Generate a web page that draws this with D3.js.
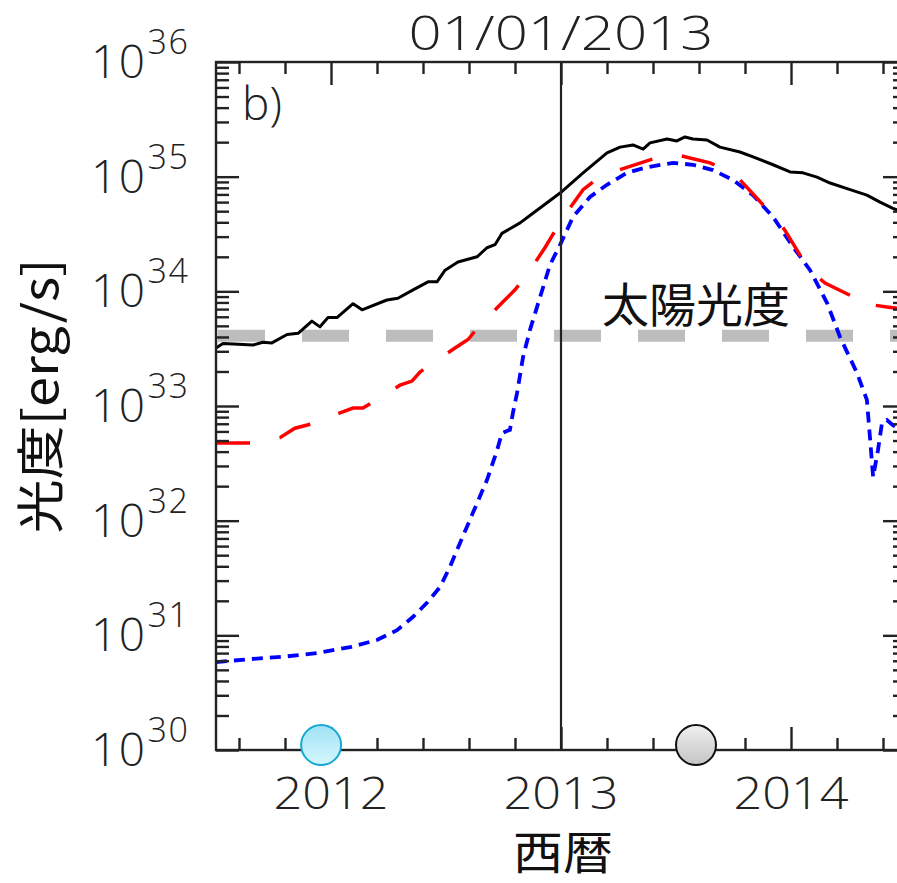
<!DOCTYPE html>
<html>
<head>
<meta charset="utf-8">
<script src="https://cdn.jsdelivr.net/npm/d3@7"></script>
<style>
  html,body{margin:0;padding:0;background:#fff;}
  svg{display:block;}
  .tk{font-family:'Open Sans','DejaVu Sans',sans-serif;font-weight:300;fill:#222;}
  .jp{font-family:'Noto Sans CJK JP',sans-serif;fill:#111;}
</style>
</head>
<body>
<svg id="chart" width="897" height="883"></svg>
<script>
// luminosity [erg/s] vs. time [yr]
const totalLum = [
  [2011.500,3.2e33],[2011.530,3.5e33],[2011.661,3.4e33],[2011.704,3.6e33],[2011.743,3.55e33],
  [2011.809,4.2e33],[2011.857,4.3e33],[2011.917,5.5e33],[2011.952,4.9e33],[2011.987,5.9e33],
  [2012.026,5.9e33],[2012.096,7.8e33],[2012.135,6.9e33],[2012.243,8.4e33],[2012.291,8.7e33],
  [2012.357,1.03e34],[2012.422,1.21e34],[2012.461,1.21e34],[2012.496,1.53e34],[2012.552,1.8e34],
  [2012.635,2.0e34],[2012.678,2.4e34],[2012.713,2.55e34],[2012.743,3.2e34],[2012.822,3.95e34],
  [2012.878,4.8e34],[2012.996,7.2e34],[2013.096,1.08e35],[2013.200,1.61e35],[2013.257,1.81e35],
  [2013.313,1.89e35],[2013.357,1.74e35],[2013.387,1.97e35],[2013.461,2.13e35],[2013.504,2.05e35],
  [2013.539,2.22e35],[2013.574,2.13e35],[2013.635,2.09e35],[2013.691,1.81e35],[2013.778,1.64e35],
  [2013.835,1.49e35],[2013.922,1.27e35],[2013.996,1.10e35],[2014.052,1.08e35],[2014.113,9.9e34],
  [2014.170,8.8e34],[2014.257,7.7e34],[2014.330,6.9e34],[2014.387,6.0e34],[2014.443,5.3e34],
  [2014.496,4.8e34]
];
const midLum = [
  [2011.500,4.75e32],[2011.648,4.75e32],[2011.778,5.3e32],[2011.843,6.4e32],[2011.917,7.0e32],
  [2012.039,8.7e32],[2012.096,9.6e32],[2012.139,9.6e32],[2012.183,1.08e33],[2012.300,1.52e33],
  [2012.352,1.65e33],[2012.387,1.98e33],[2012.422,2.23e33],[2012.539,3.2e33],[2012.596,3.8e33],
  [2012.648,5.1e33],[2012.748,8.1e33],[2012.800,1.03e34],[2012.852,1.39e34],[2012.930,2.4e34],
  [2013.009,4.4e34],[2013.096,7.7e34],[2013.139,9.0e34],[2013.213,1.08e35],[2013.357,1.34e35],
  [2013.430,1.49e35],[2013.504,1.55e35],[2013.648,1.32e35],[2013.691,1.21e35],[2013.778,9.4e34],
  [2013.878,5.7e34],[2013.922,4.8e34],[2013.974,3.4e34],[2014.052,1.88e34],[2014.096,1.45e34],
  [2014.148,1.18e34],[2014.278,8.8e33],[2014.330,7.3e33],[2014.357,7.6e33],[2014.417,7.3e33],
  [2014.496,7.0e33]
];
const lowLum = [
  [2011.500,5.85e30],[2011.648,6.2e30],[2011.791,6.5e30],[2011.939,7.0e30],[2012.083,7.9e30],
  [2012.200,9.1e30],[2012.287,1.11e31],[2012.357,1.45e31],[2012.417,1.92e31],[2012.474,2.64e31],
  [2012.517,3.95e31],[2012.561,6.4e31],[2012.617,1.17e32],[2012.678,2.26e32],[2012.722,4.1e32],
  [2012.743,5.8e32],[2012.778,6.2e32],[2012.791,8.7e32],[2012.809,1.3e33],[2012.835,2.67e33],
  [2012.865,4.6e33],[2012.909,8.9e33],[2012.952,1.7e34],[2012.996,2.54e34],[2013.052,4.45e34],
  [2013.126,6.65e34],[2013.200,8.5e34],[2013.287,1.08e35],[2013.374,1.21e35],[2013.487,1.32e35],
  [2013.574,1.27e35],[2013.661,1.14e35],[2013.748,9.35e34],[2013.835,6.9e34],[2013.922,4.45e34],
  [2014.009,2.44e34],[2014.083,1.53e34],[2014.157,7.9e33],[2014.213,4.0e33],[2014.287,1.94e33],
  [2014.330,1.13e33],[2014.343,5.4e32],[2014.357,2.4e32],[2014.378,4.1e32],[2014.396,7.2e32],
  [2014.417,7.55e32],[2014.443,6.8e32],[2014.496,5.9e32]
];
const sunLum = 4.1e33;
const refDate = 2013.0;
const markerYears = [2011.957, 2013.587];
const xTicks = [2012, 2013, 2014];
const yDecades = [30, 31, 32, 33, 34, 35, 36];

const svg = d3.select('#chart');
const L = 216, R = 906, T = 62, B = 750;
const x = d3.scaleLinear().domain([2011.5, 2014.5]).range([L, R]);
const y = d3.scaleLog().domain([1e30, 1e36]).range([B, T]);

const defs = svg.append('defs');
defs.append('clipPath').attr('id','plot').append('rect')
  .attr('x',L).attr('y',T).attr('width',R-L).attr('height',B-T);
const g1 = defs.append('linearGradient').attr('id','gcyan').attr('x1',0).attr('x2',0).attr('y1',0).attr('y2',1);
g1.append('stop').attr('offset','0%').attr('stop-color','#9fe3f5');
g1.append('stop').attr('offset','100%').attr('stop-color','#d6f6fd');
const g2 = defs.append('linearGradient').attr('id','ggray').attr('x1',0).attr('x2',0).attr('y1',0).attr('y2',1);
g2.append('stop').attr('offset','0%').attr('stop-color','#f0f0f0');
g2.append('stop').attr('offset','100%').attr('stop-color','#c4c4c4');

// solar luminosity reference
svg.append('line').attr('x1',L+2).attr('x2',R).attr('y1',y(sunLum)).attr('y2',y(sunLum))
  .attr('stroke','#bdbdbd').attr('stroke-width',12).attr('stroke-dasharray','47,37');
svg.append('text').attr('class','jp').attr('x',602).attr('y',y(sunLum)-14)
  .attr('font-size',47).text('太陽光度');

// curves
const line = d3.line().x(d=>x(d[0])).y(d=>y(d[1]));
const pg = svg.append('g').attr('clip-path','url(#plot)');
pg.append('path').datum(lowLum).attr('d',line).attr('fill','none')
  .attr('stroke','#0000ff').attr('stroke-width',3.8).attr('stroke-dasharray','11,7');
pg.append('path').datum(midLum).attr('d',line).attr('fill','none')
  .attr('stroke','#ff0000').attr('stroke-width',3.5).attr('stroke-dasharray','34,30');
pg.append('path').datum(totalLum).attr('d',line).attr('fill','none')
  .attr('stroke','#000').attr('stroke-width',3).attr('stroke-linejoin','round');

// reference date
svg.append('line').attr('x1',x(refDate)).attr('x2',x(refDate)).attr('y1',T).attr('y2',B)
  .attr('stroke','#222').attr('stroke-width',2.2);

// axes: major/minor ticks pointing inward
const yMinor = [];
yDecades.slice(0,-1).forEach(e=>{ for(let k=2;k<=9;k++) yMinor.push(k*Math.pow(10,e)); });
const yMajor = yDecades.map(e=>Math.pow(10,e));
const xMinor = d3.range(2011.6, 2014.5, 0.2).map(v=>+v.toFixed(1)).filter(v=>!xTicks.includes(v));

function tickStyle(sel){
  sel.select('.domain').remove();
  sel.selectAll('line').attr('stroke','#222').attr('stroke-width',2.4);
  sel.selectAll('text').remove();
}
svg.append('g').attr('transform',`translate(${L},0)`).call(d3.axisLeft(y).tickValues(yMajor).tickSize(-23)).call(tickStyle);
svg.append('g').attr('transform',`translate(${L},0)`).call(d3.axisLeft(y).tickValues(yMinor).tickSize(-13)).call(tickStyle);
svg.append('g').attr('transform',`translate(${R},0)`).call(d3.axisRight(y).tickValues(yMajor).tickSize(-23)).call(tickStyle);
svg.append('g').attr('transform',`translate(${R},0)`).call(d3.axisRight(y).tickValues(yMinor).tickSize(-13)).call(tickStyle);
svg.append('g').attr('transform',`translate(0,${B})`).call(d3.axisBottom(x).tickValues(xTicks).tickSize(-23)).call(tickStyle);
svg.append('g').attr('transform',`translate(0,${B})`).call(d3.axisBottom(x).tickValues(xMinor).tickSize(-12)).call(tickStyle);
svg.append('g').attr('transform',`translate(0,${T})`).call(d3.axisTop(x).tickValues(xTicks).tickSize(-23)).call(tickStyle);
svg.append('g').attr('transform',`translate(0,${T})`).call(d3.axisTop(x).tickValues(xMinor).tickSize(-12)).call(tickStyle);

// frame
svg.append('rect').attr('x',L).attr('y',T).attr('width',R-L).attr('height',B-T)
  .attr('fill','none').attr('stroke','#222').attr('stroke-width',2.4);

// y tick labels: 10^n
yDecades.forEach(e=>{
  const t = svg.append('text').attr('class','tk').attr('x',91).attr('y',y(Math.pow(10,e))+16)
    .attr('font-size',46).attr('letter-spacing',1.5);
  t.append('tspan').text('10');
  t.append('tspan').attr('dy',-24).attr('dx',1).attr('font-size',34).text(e);
});
// x tick labels
xTicks.forEach(v=>{
  svg.append('text').attr('class','tk').attr('x',x(v)).attr('y',809).attr('text-anchor','middle')
    .attr('font-size',45).attr('textLength',115).attr('lengthAdjust','spacingAndGlyphs').text(v);
});
// top date label
svg.append('text').attr('class','tk').attr('x',x(refDate)).attr('y',50).attr('text-anchor','middle')
  .attr('font-size',48).attr('textLength',305).attr('lengthAdjust','spacingAndGlyphs').text('01/01/2013');
svg.append('text').attr('class','tk').attr('x',242).attr('y',120).attr('font-size',46).text('b)');

// axis titles
svg.append('text').attr('class','jp').attr('x',563).attr('y',869).attr('text-anchor','middle')
  .attr('font-size',46).attr('textLength',100).attr('lengthAdjust','spacingAndGlyphs').text('西暦');
svg.append('text').attr('class','jp').attr('transform','translate(58,396) rotate(-90)')
  .attr('text-anchor','middle').attr('font-size',48)
  .attr('textLength',275).attr('lengthAdjust','spacingAndGlyphs').text('光度[erg/s]');

// event markers
svg.append('circle').attr('cx',x(markerYears[0])).attr('cy',B-5).attr('r',20)
  .attr('fill','url(#gcyan)').attr('stroke','#17a8d6').attr('stroke-width',2);
svg.append('circle').attr('cx',x(markerYears[1])).attr('cy',B-5).attr('r',20)
  .attr('fill','url(#ggray)').attr('stroke','#111').attr('stroke-width',2);
</script>
</body>
</html>
